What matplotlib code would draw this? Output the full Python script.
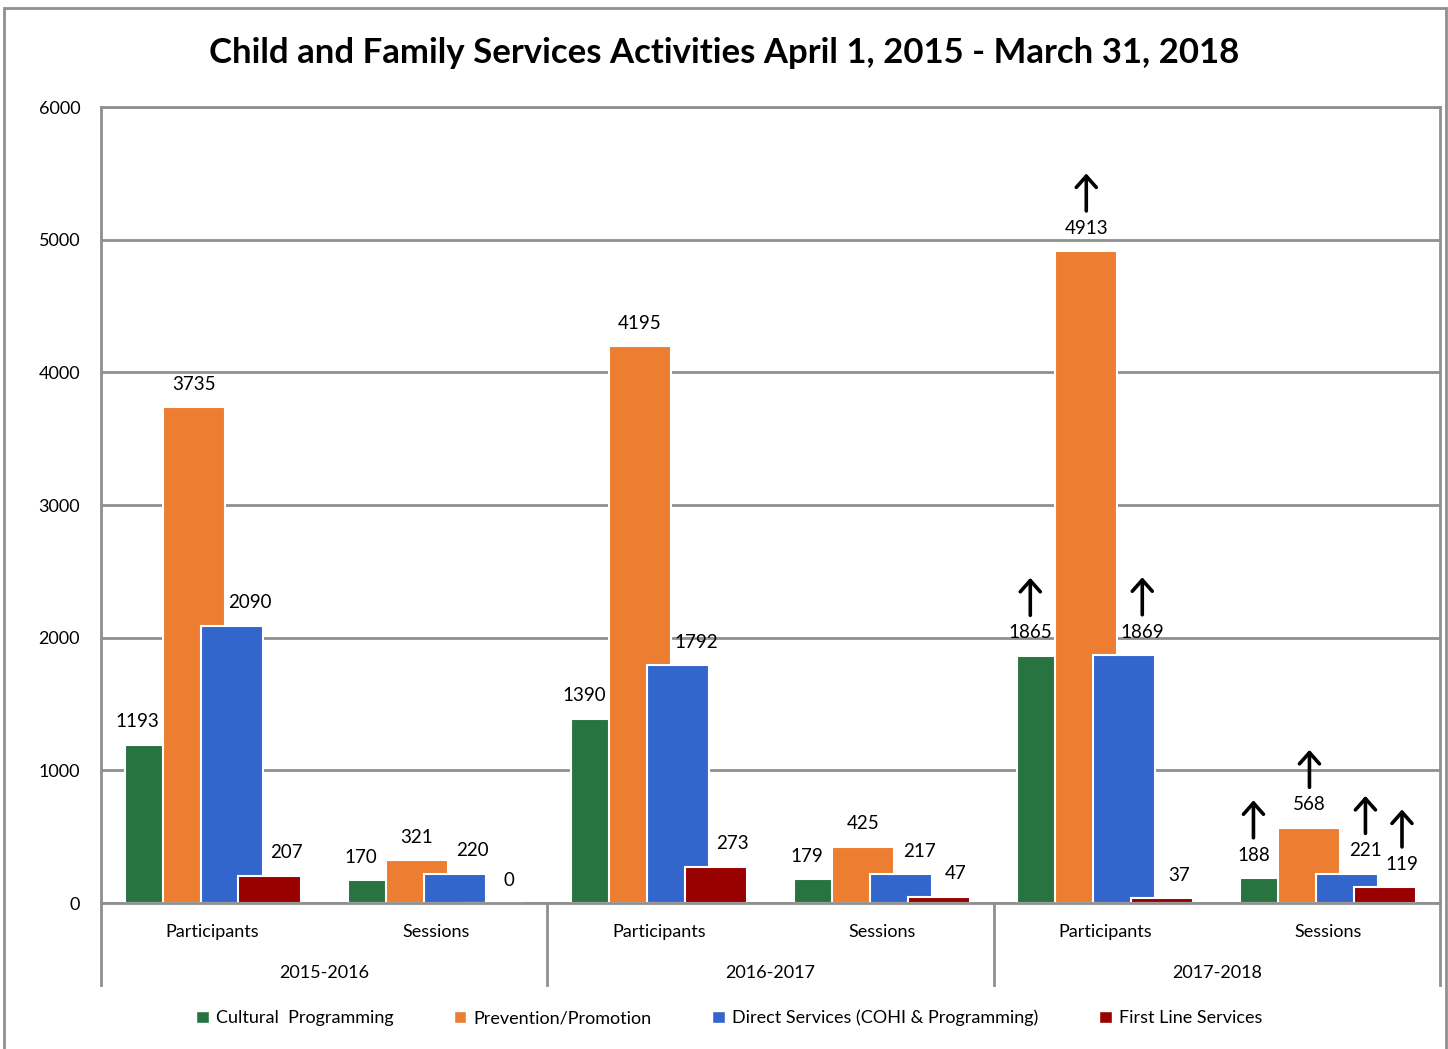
import numpy as np
import matplotlib.pyplot as plt
from matplotlib.patches import Patch, Rectangle
from matplotlib.transforms import offset_copy, blended_transform_factory

plt.rcParams['font.family'] = ['Lato', 'DejaVu Sans']

# data: one value per (year, measure) slot
years = ['2015-2016', '2016-2017', '2017-2018']
measures = ['Participants', 'Sessions']
series_names = ['Cultural  Programming', 'Prevention/Promotion',
                'Direct Services (COHI & Programming)', 'First Line Services']
cultural = [1193, 170, 1390, 179, 1865, 188]
prevention = [3735, 321, 4195, 425, 4913, 568]
direct = [2090, 220, 1792, 217, 1869, 221]
first_line = [207, 0, 273, 47, 37, 119]

series = [cultural, prevention, direct, first_line]
colors = ['#277441', '#ED7D31', '#3366CC', '#990000']
label_dx = [-13, 0, 13, 12]   # points, sideways shift of value labels

fig = plt.figure(figsize=(14.48, 10.49), dpi=100)
ax = fig.add_axes([101/1448, 1 - 903/1049, (1440-101)/1448, (903-107)/1049])

n_slots = len(years) * len(measures)
centers = np.arange(n_slots) + 0.5
step = 0.170
width = 0.278

for k, (vals, col) in enumerate(zip(series, colors)):
    xs = centers + (k - 1.5) * step
    ax.bar(xs, vals, width=width, color=col, edgecolor='white', linewidth=1.5, zorder=2)
    for i, (x, v) in enumerate(zip(xs, vals)):
        tr = offset_copy(ax.transData, fig=fig, x=label_dx[k], y=16.5, units='points')
        ax.text(x, v, str(v), transform=tr, ha='center', va='center', fontsize=13.5, zorder=4)
        # up arrow where the latest year beats the year before
        if i >= n_slots - 2 and v > vals[i - 2]:
            base = offset_copy(ax.transData, fig=fig, x=label_dx[k], y=29, units='points')
            tip = offset_copy(ax.transData, fig=fig, x=label_dx[k], y=56, units='points')
            ax.annotate('', xy=(x, v), xycoords=tip, xytext=(x, v), textcoords=base,
                        arrowprops=dict(arrowstyle='->,head_length=0.45,head_width=0.4',
                                        lw=2.6, color='black', mutation_scale=18,
                                        shrinkA=0, shrinkB=0),
                        annotation_clip=False, zorder=5)

ax.set_xlim(0, n_slots)
ax.set_ylim(0, 6000)
ax.set_yticks(range(0, 6001, 1000))
ax.tick_params(axis='y', length=0, pad=15, labelsize=13)
ax.set_xticks([])
ax.yaxis.grid(True, color='#8f8f8f', linewidth=2)
ax.set_axisbelow(True)
for sp in ax.spines.values():
    sp.set_color('#8f8f8f')
    sp.set_linewidth(2)

# two-level category axis
trx = blended_transform_factory(ax.transData, ax.transAxes)
for i, c in enumerate(centers):
    ax.text(c, -0.036, measures[i % 2], transform=trx, ha='center', va='center', fontsize=13)
for j, y in enumerate(years):
    ax.text(2 * j + 1, -0.088, y, transform=trx, ha='center', va='center', fontsize=13)
for xd in range(0, n_slots + 1, 2):
    ax.plot([xd, xd], [0, -0.103], transform=trx, color='#8f8f8f', lw=2, clip_on=False)

fig.suptitle('Child and Family Services Activities April 1, 2015 - March 31, 2018',
             x=724/1448, y=1 - 53/1049, va='center', fontsize=25, fontweight='bold')

handles = [Patch(facecolor=c, edgecolor='white') for c in colors]
fig.legend(handles, series_names, loc='center', bbox_to_anchor=(729/1448, 1 - 1018/1049),
           ncol=4, frameon=False, fontsize=13, handlelength=0.7, handleheight=0.7,
           handletextpad=0.4, columnspacing=3.35)

# outer chart border
fig.patches.append(Rectangle((4/1448, -0.01), 1442/1448, 1 - 8/1049 + 0.01,
                             transform=fig.transFigure, fill=False,
                             edgecolor='#8f8f8f', linewidth=2))

fig.savefig('out.png', dpi=100)
